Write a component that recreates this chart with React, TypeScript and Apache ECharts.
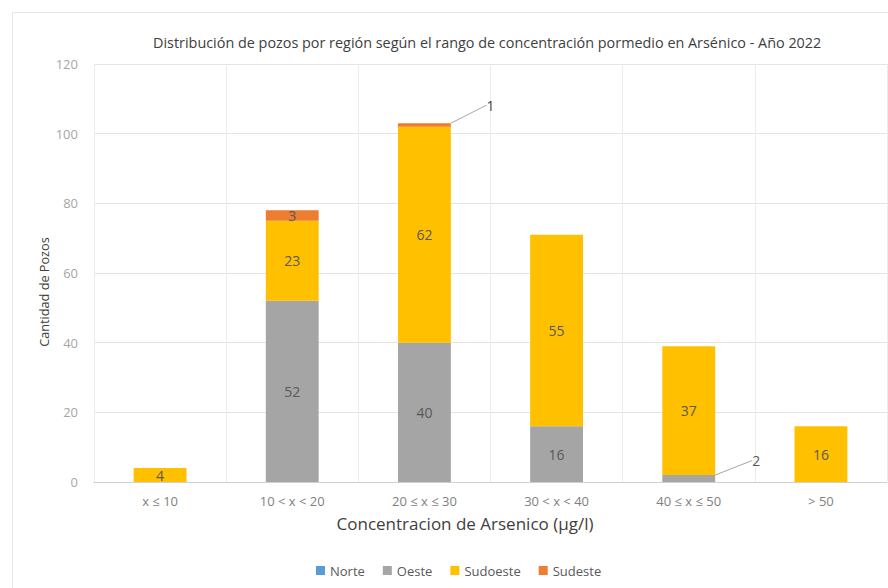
import React, { useEffect, useRef } from "react";
import * as echarts from "echarts";

const categories = ["x ≤ 10", "10 < x < 20", "20 ≤ x ≤ 30", "30 < x < 40", "40 ≤ x ≤ 50", "> 50"];
const norte = [0, 0, 0, 0, 0, 0];
const oeste = [0, 52, 40, 16, 2, 0];
const sudoeste = [4, 23, 62, 55, 37, 16];
const sudeste = [0, 3, 1, 0, 0, 0];
const yTicks = { min: 0, max: 120, interval: 20 };

const FONT = "Open Sans";

export default function App() {
  const ref = useRef<HTMLDivElement>(null);
  useEffect(() => {
    if (!ref.current) return;
    const chart = echarts.init(ref.current, null, { renderer: "svg" });
    const labelBase = {
      show: true,
      position: "inside",
      color: "#595959",
      fontSize: 14,
      fontFamily: FONT,
      formatter: (p: any) => (p.value ? String(p.value) : ""),
    };
    const mk = (name: string, data: any[], color: string, extra: any = {}) => ({
      name,
      type: "bar",
      stack: "total",
      barWidth: "40%",
      data,
      itemStyle: { color },
      label: labelBase,
      ...extra,
    });
    chart.setOption({
      animation: false,
      textStyle: { fontFamily: FONT },
      graphic: [
        {
          type: "rect",
          left: 10,
          top: 10,
          shape: { width: 880, height: 576 },
          style: { fill: "none", stroke: "#e6e6e6", lineWidth: 1 },
          silent: true,
          z: -1,
        },
        {
          type: "text",
          x: 465,
          y: 523,
          style: {
            text: "Concentracion de Arsenico (µg/l)",
            fill: "#404040",
            fontSize: 17,
            fontFamily: FONT,
            align: "center",
            verticalAlign: "middle",
          },
        },
        {
          type: "text",
          x: 44,
          y: 292,
          rotation: Math.PI / 2,
          style: {
            text: "Cantidad de Pozos",
            fill: "#404040",
            fontSize: 12.7,
            fontFamily: FONT,
            align: "center",
            verticalAlign: "middle",
          },
        },
      ],
      title: {
        text: "Distribución de pozos por región según el rango de concentración pormedio en Arsénico - Año 2022",
        left: 148,
        top: 30,
        textStyle: { fontSize: 14.4, fontWeight: "normal", color: "#404040", fontFamily: FONT },
      },
      legend: {
        bottom: 6,
        left: 311,
        itemWidth: 9,
        itemHeight: 9,
        itemGap: 18,
        icon: "rect",
        textStyle: { color: "#595959", fontSize: 13, fontFamily: FONT },
        data: ["Norte", "Oeste", "Sudoeste", "Sudeste"],
      },
      grid: { left: 94, right: 1, top: 64, bottom: 106 },
      xAxis: {
        type: "category",
        data: categories,
        axisLine: { lineStyle: { color: "#d0d0d0" } },
        axisTick: { show: false },
        axisLabel: { color: "#7f7f7f", fontSize: 13, margin: 12, fontFamily: FONT },
        splitLine: { show: true, lineStyle: { color: "#ececec" } },
      },
      yAxis: {
        type: "value",
        ...yTicks,
        axisLine: { show: false },
        axisTick: { show: false },
        axisLabel: { color: "#a6a6a6", fontSize: 13, margin: 16, fontFamily: FONT },
        splitLine: { lineStyle: { color: "#e4e4e4" } },
      },
      series: [
        mk("Norte", norte, "#5B9BD5"),
        mk("Oeste", oeste.map((v, i) =>
            i === 4 ? { value: v, label: { position: "right", color: "#595959" } } : v
          ), "#A5A5A5", {
          labelLayout: (p: any) => (p.dataIndex === 4 ? { dx: 32, dy: -18 } : {}),
          labelLine: { show: true, lineStyle: { color: "#a6a6a6", width: 1 } },
        }),
        mk("Sudoeste", sudoeste, "#FFC000"),
        mk("Sudeste", sudeste.map((v, i) =>
            i === 2 ? { value: v, label: { position: "top", color: "#404040" } } : v
          ), "#ED7D31", {
          labelLayout: (p: any) => (p.dataIndex === 2 ? { dx: 66, dy: -6 } : {}),
          labelLine: { show: true, lineStyle: { color: "#a6a6a6", width: 1 } },
        }),
      ],
    });
    return () => chart.dispose();
  }, []);
  return (
    <div
      ref={ref}
      style={{ position: "fixed", left: 0, top: 0, width: 888, height: 588, background: "#fff" }}
    />
  );
}
